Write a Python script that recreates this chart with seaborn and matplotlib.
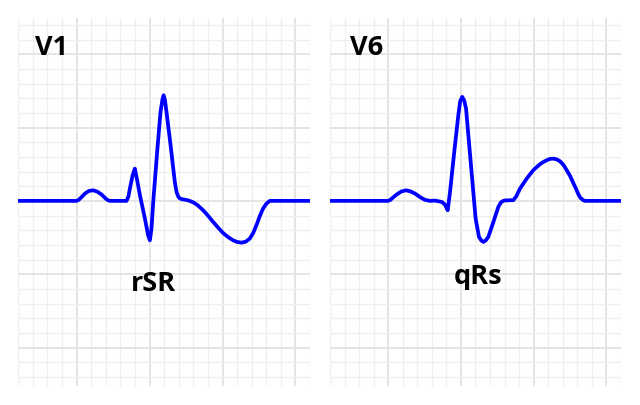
import matplotlib
matplotlib.use("Agg")
import matplotlib.pyplot as plt
import numpy as np
import pandas as pd
import seaborn as sns

# trace values in small-box units (1 box = 1 minor grid cell)
v1_x = [0, 4.0, 4.15, 4.3, 4.57, 4.85, 5.14, 5.43, 5.71, 6.0, 6.15, 6.28, 7.42,
        7.55, 7.65, 7.84, 7.99, 8.15, 8.34, 8.68, 8.9, 9.02, 9.13, 9.25, 9.52,
        9.75, 9.88, 9.96, 10.05, 10.16, 10.44, 10.73, 10.85, 10.97, 11.08, 11.3,
        11.53, 11.75, 11.99, 12.3, 12.67, 13.0, 13.36, 13.7, 14.04, 14.4, 14.73,
        15.0, 15.3, 15.6, 15.87, 16.1, 16.37, 16.55, 16.78, 17.0, 17.24, 17.7, 20]
v1_y = [0, 0, 0.08, 0.22, 0.5, 0.68, 0.72, 0.62, 0.43, 0.15, 0.04, 0, 0,
        0.3, 0.84, 1.75, 2.2, 1.4, 0.38, -1.21, -2.35, -2.69, -1.9, -0.07, 3.34,
        6.06, 6.9, 7.2, 6.9, 6.06, 3.79, 1.29, 0.6, 0.28, 0.16, 0.1,
        0.06, 0.0, -0.1, -0.3, -0.64, -1.0, -1.44, -1.82, -2.19, -2.48, -2.69,
        -2.8, -2.85, -2.78, -2.57, -2.2, -1.55, -1.05, -0.53, -0.2, 0, 0, 0]

v6_x = [0, 4.0, 4.15, 4.3, 4.58, 4.9, 5.22, 5.53, 5.84, 6.2, 6.53, 6.87, 7.22,
        7.68, 7.9, 8.09, 8.25, 8.54, 8.82, 8.95, 9.09, 9.22, 9.35, 9.57, 9.81,
        10.01, 10.24, 10.4, 10.54, 10.7, 10.88, 11.23, 11.57, 11.75, 11.91,
        12.03, 12.6, 12.8, 13.06, 13.52, 13.97, 14.43, 14.66, 14.89, 15.12,
        15.35, 15.58, 15.81, 16.05, 16.27, 16.5, 16.72, 16.9, 17.07, 17.2, 17.4,
        17.53, 20]
v6_y = [0, 0, 0.07, 0.2, 0.43, 0.64, 0.72, 0.65, 0.5, 0.25, 0.07, 0, 0.02,
        -0.07, -0.25, -0.64, 0.61, 3.34, 5.84, 6.8, 7.09, 6.85, 6.3, 3.79, 1.06,
        -1.21, -2.46, -2.7, -2.8, -2.7, -2.46, -1.44, -0.41, -0.1, 0,
        0.03, 0.05, 0.3, 0.84, 1.52, 2.09, 2.5, 2.65, 2.77, 2.86,
        2.88, 2.83, 2.7, 2.45, 2.09, 1.7, 1.22, 0.85, 0.45, 0.22, 0.05,
        0, 0]

leads = ["V1", "V6"]
lead_x = [1.14, 1.37]
patterns = ["rSR", "qRs"]
pattern_x = [9.24, 10.17]
pattern_y = [-6.14, -5.69]

sns.set_style("white")
plt.rcParams["font.family"] = ["Open Sans", "DejaVu Sans"]

fig = plt.figure(figsize=(6.4, 4.05), dpi=100)
ax_pos = [[0.0286, 0.0477, 0.4558, 0.9072],
          [0.5156, 0.0477, 0.4547, 0.9072]]
traces = [(v1_x, v1_y), (v6_x, v6_y)]

for i, (xs, ys) in enumerate(traces):
    ax = fig.add_axes(ax_pos[i])
    df = pd.DataFrame({"t": xs, "mv": ys})
    sns.lineplot(data=df, x="t", y="mv", ax=ax, color="#0000ff", lw=2.7,
                 estimator=None, sort=False, zorder=3,
                 solid_joinstyle="round", solid_capstyle="round")
    ax.set_xlim(0, 20)
    ax.set_ylim(-12.6, 12.45)
    ax.set_xticks([4, 9, 14, 19])
    ax.set_xticks(np.arange(0, 21), minor=True)
    ax.set_yticks([-10, -5, 0, 5, 10])
    ax.set_yticks(np.arange(-12, 13), minor=True)
    ax.grid(which="minor", color="#efefef", lw=0.9, zorder=0)
    ax.grid(which="major", color="#e2e2e2", lw=1.3, zorder=1)
    ax.set_axisbelow(True)
    ax.tick_params(which="both", length=0, labelbottom=False, labelleft=False)
    ax.set_xlabel("")
    ax.set_ylabel("")
    for s in ax.spines.values():
        s.set_visible(False)
    ax.text(lead_x[i], 9.93, leads[i], fontsize=19.5,
            fontweight="bold", ha="left", va="baseline", color="black")
    ax.text(pattern_x[i], pattern_y[i], patterns[i], fontsize=19.5,
            fontweight="bold", ha="center", va="baseline", color="black")

fig.savefig("out.png", dpi=100)
